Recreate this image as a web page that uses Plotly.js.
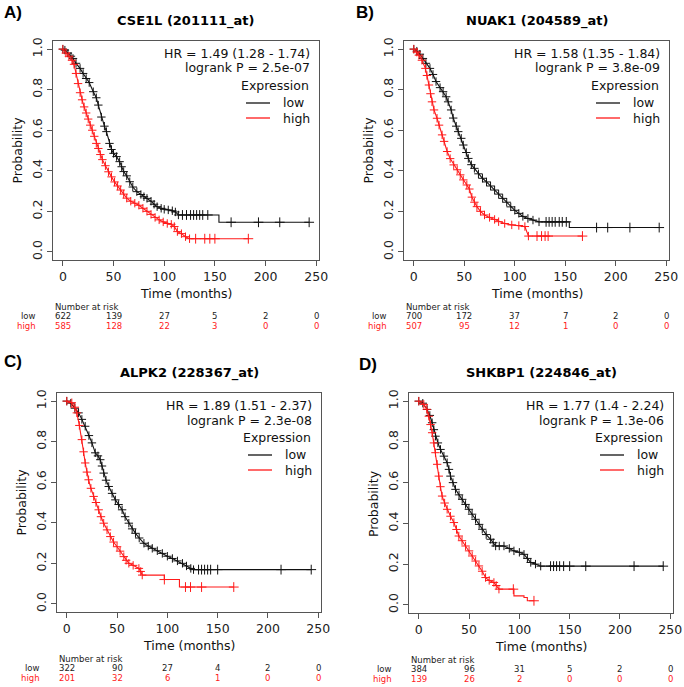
<!DOCTYPE html>
<html>
<head>
<meta charset="utf-8">
<script src="https://cdn.plot.ly/plotly-3.0.1.min.js"></script>
<style>html,body{margin:0;padding:0;background:#fff;}#chart{width:684px;height:687px;}</style>
</head>
<body>
<div id="chart"></div>
<script>
// ---------- DATA ----------
const panelLetters = ["A)", "B)", "C)", "D)"];
const titles = ["CSE1L (201111_at)", "NUAK1 (204589_at)", "ALPK2 (228367_at)", "SHKBP1 (224846_at)"];
const hrTexts = ["HR = 1.49 (1.28 - 1.74)", "HR = 1.58 (1.35 - 1.84)", "HR = 1.89 (1.51 - 2.37)", "HR = 1.77 (1.4 - 2.24)"];
const pTexts = ["logrank P = 2.5e-07", "logrank P = 3.8e-09", "logrank P = 2.3e-08", "logrank P = 1.3e-06"];
const groupNames = ["low", "high"];
const xTicks = [0, 50, 100, 150, 200, 250];
const yTicks = [0, 0.2, 0.4, 0.6, 0.8, 1.0];
const yTickText = ["0.0", "0.2", "0.4", "0.6", "0.8", "1.0"];
const riskTimes = [0, 50, 100, 150, 200, 250];

const tA_low  = [0, 2, 5, 8, 10, 13, 17, 20, 23, 26, 30, 33, 35, 38, 41, 43, 46, 48, 50, 53, 56, 58, 60, 63, 66, 69, 73, 77, 80, 83, 87, 90, 93, 97, 100, 104, 108, 111, 114];
const sA_low  = [1, 0.995, 0.98, 0.965, 0.954, 0.93, 0.905, 0.88, 0.855, 0.835, 0.79, 0.76, 0.724, 0.665, 0.62, 0.593, 0.535, 0.505, 0.486, 0.47, 0.445, 0.42, 0.396, 0.375, 0.346, 0.32, 0.297, 0.283, 0.272, 0.264, 0.25, 0.235, 0.223, 0.215, 0.21, 0.207, 0.203, 0.197, 0.182];
const tA_lowTail = [114, 154, 243];
const sA_lowTail = [0.182, 0.146, 0.146];
const cA_low  = [118, 122, 126, 129, 132, 135, 138, 143, 166, 193, 214, 243];
const tA_high = [0, 3, 6, 9, 11, 13, 15, 17, 19, 21, 23, 25, 27, 29, 31, 33, 35, 37, 39, 42, 45, 48, 51, 54, 57, 60, 63, 67, 71, 75, 79, 83, 87, 91, 95, 99, 103, 107, 110, 113, 117, 121, 125];
const sA_high = [1, 0.98, 0.965, 0.945, 0.925, 0.88, 0.83, 0.785, 0.75, 0.715, 0.685, 0.655, 0.625, 0.6, 0.57, 0.535, 0.51, 0.48, 0.455, 0.425, 0.395, 0.37, 0.345, 0.325, 0.305, 0.285, 0.265, 0.25, 0.24, 0.23, 0.215, 0.2, 0.185, 0.17, 0.158, 0.148, 0.14, 0.136, 0.125, 0.1, 0.09, 0.075, 0.065];
const tA_highTail = [125, 183];
const sA_highTail = [0.065, 0.065];
const cA_high = [131, 140, 145, 150, 183];
const riskA_low  = [622, 139, 27, 5, 2, 0];
const riskA_high = [585, 128, 22, 3, 0, 0];

// Panel B
const tB_low  = [0, 3, 6, 9, 12, 16, 19, 22, 26, 29, 32, 34, 37, 39, 42, 44, 47, 49, 52, 54, 57, 60, 64, 68, 72, 76, 80, 84, 88, 92, 96, 100, 104, 108, 113, 118, 124];
const sB_low  = [1, 0.99, 0.975, 0.954, 0.93, 0.905, 0.875, 0.84, 0.81, 0.79, 0.765, 0.74, 0.7, 0.66, 0.62, 0.593, 0.56, 0.527, 0.49, 0.461, 0.43, 0.412, 0.385, 0.363, 0.345, 0.325, 0.305, 0.285, 0.264, 0.245, 0.222, 0.205, 0.19, 0.175, 0.165, 0.157, 0.148];
const tB_lowTail = [124, 154, 243];
const sB_lowTail = [0.148, 0.12, 0.12];
const cB_low  = [131, 134, 137, 140, 144, 147, 151, 181, 192, 214, 243];
const tB_high = [0, 3, 5, 8, 11.5, 13, 15, 16.5, 18, 20, 23, 25, 28, 30, 33, 36, 39.5, 43, 46, 49, 52.5, 55, 57.5, 60, 62.5, 66, 70, 75, 80, 84, 90, 97, 104, 110, 113.5];
const sB_high = [1, 0.985, 0.97, 0.945, 0.905, 0.87, 0.823, 0.78, 0.74, 0.70, 0.659, 0.625, 0.577, 0.545, 0.495, 0.46, 0.429, 0.405, 0.38, 0.355, 0.33, 0.31, 0.27, 0.245, 0.223, 0.2, 0.182, 0.17, 0.16, 0.149, 0.14, 0.133, 0.13, 0.125, 0.078];
const tB_highTail = [113.5, 167];
const sB_highTail = [0.078, 0.078];
const cB_high = [122, 126.5, 130, 133, 167];
const riskB_low  = [700, 172, 37, 7, 2, 0];
const riskB_high = [507, 95, 12, 1, 0, 0];

// Panel C
const tC_low  = [0, 4, 8, 11.7, 15, 18.3, 22, 25, 28.3, 31, 33.3, 35, 36.7, 39, 41.7, 45, 48.3, 51.5, 55, 58, 61.7, 65, 68.3, 72, 76.7, 81, 85, 90, 95, 100, 105, 110, 115, 119, 123.3, 126];
const sC_low  = [1, 0.99, 0.965, 0.942, 0.91, 0.876, 0.83, 0.794, 0.745, 0.73, 0.711, 0.68, 0.645, 0.61, 0.579, 0.545, 0.513, 0.49, 0.464, 0.43, 0.398, 0.37, 0.348, 0.325, 0.299, 0.285, 0.274, 0.262, 0.249, 0.235, 0.224, 0.212, 0.2, 0.187, 0.175, 0.169];
const tC_lowTail = [126, 243];
const sC_lowTail = [0.169, 0.169];
const cC_low  = [131, 134, 137, 140, 143, 150, 213, 243];
const tC_high = [0, 5, 8, 10, 12.5, 15, 16.7, 18.3, 20, 21.7, 24, 26.7, 29, 31.7, 34, 36.7, 40, 43.3, 46.5, 50, 53, 56.7, 59, 61.7, 66, 71.7, 73.5, 75];
const sC_high = [1, 0.992, 0.97, 0.942, 0.88, 0.81, 0.75, 0.695, 0.65, 0.612, 0.57, 0.53, 0.5, 0.464, 0.43, 0.398, 0.365, 0.332, 0.305, 0.282, 0.26, 0.233, 0.215, 0.2, 0.19, 0.175, 0.16, 0.142];
const tC_highTail = [75, 97, 112, 166];
const sC_highTail = [0.142, 0.12, 0.083, 0.083];
const cC_high = [97, 118, 123, 134, 166];
const riskC_low  = [322, 90, 27, 4, 2, 0];
const riskC_high = [201, 32, 6, 1, 0, 0];

// Panel D
const tD_low  = [0, 4, 8.3, 11, 13.3, 15, 16.6, 19, 21.6, 25, 28.2, 30, 31.5, 34, 36.5, 40, 43.2, 46.5, 49.8, 53, 56.4, 60, 63.1, 67, 71.4, 74, 76.4, 80, 84.7, 90, 94.6, 100, 104.6, 108, 111.3, 116, 121.2];
const sD_low  = [1, 0.99, 0.959, 0.93, 0.894, 0.86, 0.828, 0.795, 0.763, 0.73, 0.698, 0.665, 0.632, 0.6, 0.567, 0.54, 0.518, 0.493, 0.469, 0.445, 0.42, 0.395, 0.371, 0.345, 0.322, 0.305, 0.289, 0.289, 0.289, 0.277, 0.265, 0.258, 0.248, 0.228, 0.208, 0.2, 0.19];
const tD_lowTail = [121.2, 243];
const sD_lowTail = [0.19, 0.19];
const cD_low  = [131, 134, 137, 140, 144, 150, 166, 214, 243];
const tD_high = [0, 5, 8, 10, 11.7, 13.3, 15, 16.6, 18.3, 19.9, 21.5, 23.2, 25.7, 28.2, 31.5, 34.9, 37.5, 39.8, 43, 46.5, 50, 53.1, 56.5, 59.8, 63, 66.4, 70, 74.7, 77, 79.7];
const sD_high = [1, 0.984, 0.96, 0.926, 0.885, 0.845, 0.795, 0.747, 0.69, 0.632, 0.58, 0.534, 0.5, 0.469, 0.435, 0.404, 0.37, 0.338, 0.315, 0.289, 0.265, 0.24, 0.215, 0.191, 0.165, 0.134, 0.12, 0.11, 0.095, 0.077];
const tD_highTail = [79.7, 94.6, 104.6, 107.9, 114.5];
const sD_highTail = [0.077, 0.044, 0.036, 0.02, 0.02];
const cD_high = [94, 114.5];
const riskD_low  = [384, 96, 31, 5, 2, 0];
const riskD_high = [139, 26, 2, 0, 0, 0];

// ---------- LAYOUT HELPERS ----------
const W = 684, H = 687;
const X = px => px / W;
const Y = py => 1 - py / H;
const FONT = "DejaVu Sans, Verdana, sans-serif";
const RED = "#ff1a1a";
const BLK = "#111111";
const AXC = "#555555";

const boxes = [
  {l: 53,  r: 319, t: 41,  b: 260, lx: 2,   ly: 12},
  {l: 404, r: 669, t: 41,  b: 260, lx: 354, ly: 12},
  {l: 57,  r: 321, t: 393, b: 612, lx: 2,   ly: 361},
  {l: 409, r: 673, t: 393, b: 613, lx: 357, ly: 364}
];

const panels = [
  {tl: tA_low, sl: sA_low, tlT: tA_lowTail, slT: sA_lowTail, cl: cA_low, th: tA_high, sh: sA_high, thT: tA_highTail, shT: sA_highTail, ch: cA_high, rl: riskA_low, rh: riskA_high},
  {tl: tB_low, sl: sB_low, tlT: tB_lowTail, slT: sB_lowTail, cl: cB_low, th: tB_high, sh: sB_high, thT: tB_highTail, shT: sB_highTail, ch: cB_high, rl: riskB_low, rh: riskB_high},
  {tl: tC_low, sl: sC_low, tlT: tC_lowTail, slT: sC_lowTail, cl: cC_low, th: tC_high, sh: sC_high, thT: tC_highTail, shT: sC_highTail, ch: cC_high, rl: riskC_low, rh: riskC_high},
  {tl: tD_low, sl: sD_low, tlT: tD_lowTail, slT: sD_lowTail, cl: cD_low, th: tD_high, sh: sD_high, thT: tD_highTail, shT: sD_highTail, ch: cD_high, rl: riskD_low, rh: riskD_high}
];

function survAt(ts, ss, t) {
  let v = ss[0];
  for (let i = 0; i < ts.length; i++) if (ts[i] <= t) v = ss[i];
  return v;
}

const traces = [];
const annotations = [];
const shapes = [];
const layout = {
  width: W, height: H,
  margin: {l: 0, r: 0, t: 0, b: 0},
  paper_bgcolor: "#ffffff",
  plot_bgcolor: "#ffffff",
  showlegend: false,
  font: {family: FONT, color: BLK}
};

panels.forEach((p, i) => {
  const n = i + 1;
  const xa = n === 1 ? "x" : "x" + n;
  const ya = n === 1 ? "y" : "y" + n;
  const xKey = n === 1 ? "xaxis" : "xaxis" + n;
  const yKey = n === 1 ? "yaxis" : "yaxis" + n;
  const bx = boxes[i];

  layout[xKey] = {
    domain: [X(bx.l), X(bx.r)], range: [-9.72, 252.72], anchor: ya,
    tickmode: "array", tickvals: xTicks, ticks: "outside", ticklen: 5, tickcolor: AXC,
    showline: true, mirror: true, linecolor: AXC, linewidth: 1,
    showgrid: false, zeroline: false, automargin: false,
    tickfont: {family: FONT, size: 12.5, color: "#222"}
  };
  layout[yKey] = {
    domain: [Y(bx.b), Y(bx.t)], range: [-0.04, 1.04], anchor: xa,
    tickmode: "array", tickvals: yTicks, ticktext: yTickText, tickangle: -90,
    ticks: "outside", ticklen: 5, tickcolor: AXC,
    showline: true, mirror: true, linecolor: AXC, linewidth: 1,
    showgrid: false, zeroline: false, automargin: false,
    tickfont: {family: FONT, size: 12.5, color: "#222"}
  };

  const groups = [
    {t: p.tl, s: p.sl, tT: p.tlT, sT: p.slT, c: p.cl, col: BLK},
    {t: p.th, s: p.sh, tT: p.thT, sT: p.shT, c: p.ch, col: RED}
  ];
  groups.forEach(g => {
    // dense part of the curve (many small steps) with its censor crosses
    traces.push({
      type: "scatter", mode: "lines+markers", x: g.t, y: g.s, xaxis: xa, yaxis: ya,
      line: {shape: "linear", color: g.col, width: 1.1},
      marker: {symbol: "cross-thin", size: 6, line: {color: g.col, width: 1}},
      hoverinfo: "skip"
    });
    // step tail
    traces.push({
      type: "scatter", mode: "lines", x: g.tT, y: g.sT, xaxis: xa, yaxis: ya,
      line: {shape: "hv", color: g.col, width: 1.1},
      hoverinfo: "skip"
    });
    // censor marks on the tail
    traces.push({
      type: "scatter", mode: "markers", x: g.c, y: g.c.map(t => survAt(g.tT, g.sT, t)),
      xaxis: xa, yaxis: ya,
      marker: {symbol: "cross-thin", size: 7, line: {color: g.col, width: 1}},
      hoverinfo: "skip"
    });
  });

  const A = (x, y, text, opts) => annotations.push(Object.assign({
    xref: "paper", yref: "paper", x: X(x), y: Y(y), text: text, showarrow: false,
    xanchor: "center", yanchor: "middle",
    font: {family: FONT, size: 12.5, color: BLK}
  }, opts || {}));

  A(bx.lx, bx.ly, "<b>" + panelLetters[i] + "</b>", {xanchor: "left", font: {family: "Liberation Sans, Arial, sans-serif", size: 17, color: "#000"}});
  A((bx.l + bx.r) / 2, bx.t - 20, "<b>" + titles[i] + "</b>", {font: {family: FONT, size: 13, color: "#000"}});
  A(bx.r - 7, bx.t + 12, hrTexts[i], {xanchor: "right"});
  A(bx.r - 7, bx.t + 27, pTexts[i], {xanchor: "right"});
  A(bx.r - 44.5, bx.t + 44, "Expression", {});
  A(bx.r - 38, bx.t + 62, groupNames[0], {xanchor: "left"});
  A(bx.r - 38, bx.t + 77, groupNames[1], {xanchor: "left"});
  shapes.push({type: "line", xref: "paper", yref: "paper", x0: X(bx.r - 73), x1: X(bx.r - 49), y0: Y(bx.t + 62), y1: Y(bx.t + 62), line: {color: BLK, width: 1.3}});
  shapes.push({type: "line", xref: "paper", yref: "paper", x0: X(bx.r - 73), x1: X(bx.r - 49), y0: Y(bx.t + 77), y1: Y(bx.t + 77), line: {color: RED, width: 1.3}});
  A(bx.l - 36, (bx.t + bx.b) / 2, "Probability", {textangle: -90});
  A((bx.l + bx.r) / 2, bx.b + 33, "Time (months)", {});
  const small = {family: FONT, size: 8.5, color: "#222"};
  A(bx.l, bx.b + 47, "Number at risk", {xanchor: "left", font: small});
  A(bx.l - 15, bx.b + 56, groupNames[0], {xanchor: "right", font: small});
  A(bx.l - 15, bx.b + 66, groupNames[1], {xanchor: "right", font: {family: FONT, size: 8.5, color: RED}});
  riskTimes.forEach((t, k) => {
    annotations.push({xref: xa, yref: "paper", x: t, y: Y(bx.b + 56), text: String(p.rl[k]), showarrow: false,
      xanchor: "center", yanchor: "middle", font: small});
    annotations.push({xref: xa, yref: "paper", x: t, y: Y(bx.b + 66), text: String(p.rh[k]), showarrow: false,
      xanchor: "center", yanchor: "middle", font: {family: FONT, size: 8.5, color: RED}});
  });
});

layout.annotations = annotations;
layout.shapes = shapes;

Plotly.newPlot("chart", traces, layout, {displayModeBar: false, staticPlot: true});
</script>
</body>
</html>
